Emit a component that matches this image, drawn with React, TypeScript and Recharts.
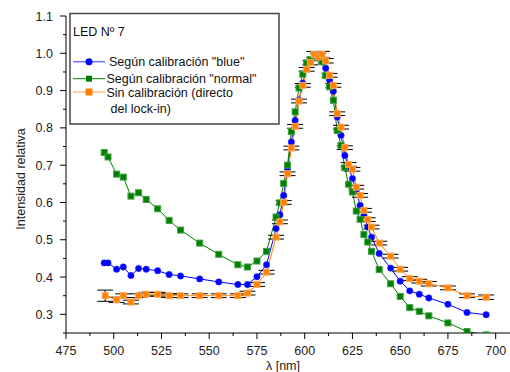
import React from 'react';
import { LineChart, Line, XAxis, YAxis, ErrorBar } from 'recharts';

const wavelengths = [495, 497, 501.5, 505, 509, 513, 517, 523, 529, 535, 545, 555, 565, 570, 575, 580, 585, 587, 589, 591, 593, 595, 597, 599, 601, 603, 605, 607, 609, 611, 613, 615, 617, 619, 621, 623, 625, 627, 629, 631, 633, 635, 639, 645, 650, 655, 660, 665, 675, 685, 695];

const blueValues = [0.438, 0.438, 0.421, 0.427, 0.404, 0.423, 0.421, 0.417, 0.407, 0.403, 0.395, 0.387, 0.380, 0.380, 0.401, 0.433, 0.530, 0.567, 0.619, 0.690, 0.762, 0.820, 0.875, 0.920, 0.960, 0.980, 0.990, 0.995, 0.990, 0.960, 0.928, 0.898, 0.829, 0.780, 0.726, 0.695, 0.664, 0.633, 0.592, 0.565, 0.534, 0.507, 0.463, 0.424, 0.389, 0.363, 0.354, 0.344, 0.327, 0.305, 0.299];

const normalValues = [0.734, 0.722, 0.676, 0.668, 0.617, 0.626, 0.608, 0.583, 0.552, 0.526, 0.491, 0.461, 0.433, 0.427, 0.443, 0.469, 0.561, 0.599, 0.651, 0.700, 0.790, 0.843, 0.907, 0.944, 0.974, 0.983, 0.995, 0.990, 0.977, 0.940, 0.910, 0.874, 0.793, 0.753, 0.693, 0.649, 0.628, 0.577, 0.555, 0.514, 0.494, 0.469, 0.420, 0.382, 0.348, 0.318, 0.308, 0.296, 0.277, 0.254, 0.245];

const rawWavelengths = [495.5, 501.5, 505, 509, 513, 517, 523, 529, 535, 545, 555, 565, 570, 575, 580, 585, 587, 589, 591, 593, 595, 597, 599, 601, 603, 605, 607, 609, 611, 613, 615, 617, 619, 621, 623, 625, 627, 629, 631, 633, 635, 639, 645, 650, 655, 660, 665, 675, 685, 695];

const rawValues = [0.350, 0.339, 0.350, 0.333, 0.350, 0.354, 0.354, 0.350, 0.350, 0.350, 0.350, 0.350, 0.357, 0.380, 0.413, 0.507, 0.548, 0.600, 0.677, 0.746, 0.804, 0.872, 0.914, 0.957, 0.975, 0.997, 0.990, 0.997, 0.980, 0.941, 0.914, 0.838, 0.802, 0.747, 0.702, 0.689, 0.641, 0.619, 0.579, 0.554, 0.534, 0.491, 0.456, 0.421, 0.396, 0.389, 0.382, 0.371, 0.350, 0.346];

const rawErrors = [0.015, 0.007, 0.005, 0.005, 0.005, 0.005, 0.005, 0.005, 0.005, 0.005, 0.005, 0.005, 0.005, 0.005, 0.005, 0.005, 0.005, 0.005, 0.005, 0.005, 0.005, 0.005, 0.005, 0.005, 0.006, 0.008, 0.010, 0.008, 0.006, 0.005, 0.005, 0.005, 0.005, 0.005, 0.005, 0.005, 0.005, 0.005, 0.005, 0.005, 0.005, 0.005, 0.005, 0.005, 0.005, 0.005, 0.006, 0.005, 0.005, 0.006];

const xMajorTicks = [475, 500, 525, 550, 575, 600, 625, 650, 675, 700];
const xMinorTicks = [487.5, 512.5, 537.5, 562.5, 587.5, 612.5, 637.5, 662.5, 687.5];
const yMajorTicks = [0.3, 0.4, 0.5, 0.6, 0.7, 0.8, 0.9, 1.0, 1.1];
const yMinorTicks = [0.25, 0.35, 0.45, 0.55, 0.65, 0.75, 0.85, 0.95, 1.05];

const legendTitle = 'LED Nº 7';
const seriesNames = ['Según calibración "blue"', 'Según calibración "normal"', 'Sin calibración (directo', 'del lock-in)'];
const xTitle = 'λ [nm]';
const yTitle = 'Intensidad relativa';

const blueData = wavelengths.map((w, i) => ({ x: w, y: blueValues[i] }));
const normalData = wavelengths.map((w, i) => ({ x: w, y: normalValues[i] }));
const rawData = rawWavelengths.map((w, i) => ({ x: w, y: rawValues[i], err: rawErrors[i] }));

const FONT = '"Liberation Sans", Arial, sans-serif';
const BLUE = '#0000ff';
const GREEN = '#008000';
const ORANGE = '#ff8000';

const isIn = (arr: number[], v: number) => arr.some((a) => Math.abs(a - v) < 1e-6);

const XTick = (props: any) => {
  const { x, y, payload } = props;
  const v = payload.value;
  const major = isIn(xMajorTicks, v);
  return (
    <g>
      <line x1={x} x2={x} y1={y} y2={y + (major ? 6 : 3)} stroke="#000" strokeWidth={1} />
      {major && (
        <text x={x} y={y + 22} textAnchor="middle" fontFamily={FONT} fontSize={12.5} fill="#222">
          {v}
        </text>
      )}
    </g>
  );
};

const YTick = (props: any) => {
  const { x, y, payload } = props;
  const v = payload.value;
  const major = isIn(yMajorTicks, v);
  return (
    <g>
      <line x1={x} x2={x - (major ? 6 : 3)} y1={y} y2={y} stroke="#000" strokeWidth={1} />
      {major && (
        <text x={x - 13} y={y + 4.5} textAnchor="end" fontFamily={FONT} fontSize={12.5} fill="#222">
          {v.toFixed(1)}
        </text>
      )}
    </g>
  );
};

const SquareDot = (fill: string, stroke: string, size: number) => (props: any) => {
  const { cx, cy, index } = props;
  if (cx == null || cy == null) return <g key={`n${index}`} />;
  return (
    <rect key={`d${index}`} x={cx - size / 2} y={cy - size / 2} width={size} height={size} fill={fill} stroke={stroke} strokeWidth={1} />
  );
};

export default function App() {
  return (
    <div style={{ position: 'absolute', left: 0, top: 0, width: 510, height: 372, background: '#fff' }}>
      <LineChart width={510} height={372} margin={{ top: 16, right: 0, bottom: 0, left: 0 }}>
        <XAxis
          type="number"
          dataKey="x"
          domain={[475, 707.5]}
          ticks={[...xMajorTicks, ...xMinorTicks].sort((a, b) => a - b)}
          interval={0}
          allowDataOverflow
          height={39}
          tickSize={0}
          tickMargin={0}
          tickLine={false}
          tick={<XTick />}
          axisLine={{ stroke: '#000', strokeWidth: 1 }}
        />
        <YAxis
          type="number"
          dataKey="y"
          domain={[0.25, 1.1]}
          ticks={[...yMajorTicks, ...yMinorTicks].sort((a, b) => a - b)}
          interval={0}
          allowDataOverflow
          width={66}
          tickSize={0}
          tickMargin={0}
          tickLine={false}
          tick={<YTick />}
          axisLine={{ stroke: '#000', strokeWidth: 1 }}
        />
        <Line
          data={blueData}
          dataKey="y"
          stroke={BLUE}
          strokeWidth={1}
          isAnimationActive={false}
          dot={{ r: 3.2, fill: BLUE, stroke: '#3030ff', strokeWidth: 0.5 }}
        />
        <Line
          data={normalData}
          dataKey="y"
          stroke={GREEN}
          strokeWidth={1}
          isAnimationActive={false}
          dot={SquareDot(GREEN, '#40a040', 6)}
        />
        <Line
          data={rawData}
          dataKey="y"
          stroke={ORANGE}
          strokeWidth={1}
          isAnimationActive={false}
          dot={SquareDot(ORANGE, '#ffa850', 6)}
        >
          <ErrorBar dataKey="err" direction="y" width={8} stroke="#000" strokeWidth={1} />
        </Line>
      </LineChart>
      <svg width={510} height={372} style={{ position: 'absolute', left: 0, top: 0, pointerEvents: 'none' }}>
        <text x={283} y={370} textAnchor="middle" fontFamily={FONT} fontSize={12.5} fill="#222">
          {xTitle}
        </text>
        <text
          x={20}
          y={183.5}
          transform="rotate(-90 20 179)"
          textAnchor="middle"
          fontFamily={FONT}
          fontSize={12.5}
          fill="#222"
        >
          {yTitle}
        </text>
        <rect x={70} y={13.5} width={209} height={110.5} fill="#fff" stroke="#444" strokeWidth={1.5} />
        <text x={73} y={36} fontFamily={FONT} fontSize={12.5} fill="#111">
          {legendTitle}
        </text>
        <line x1={73} x2={105} y1={61.7} y2={61.7} stroke="#7070ff" strokeWidth={1.5} />
        <circle cx={89} cy={61.7} r={3.5} fill={BLUE} />
        <text x={109} y={66} fontFamily={FONT} fontSize={12.5} fill="#111">
          {seriesNames[0]}
        </text>
        <line x1={73} x2={105} y1={78.7} y2={78.7} stroke={GREEN} strokeWidth={1} />
        <rect x={86} y={75.7} width={6} height={6} fill={GREEN} />
        <text x={106.5} y={83} fontFamily={FONT} fontSize={12.5} fill="#111">
          {seriesNames[1]}
        </text>
        <line x1={73} x2={105} y1={92} y2={92} stroke="#ffc080" strokeWidth={1.5} />
        <rect x={85.5} y={88.5} width={7} height={7} fill={ORANGE} />
        <text x={106.5} y={96.5} fontFamily={FONT} fontSize={12.5} fill="#111">
          {seriesNames[2]}
        </text>
        <text x={110.5} y={112.5} fontFamily={FONT} fontSize={12.5} fill="#111">
          {seriesNames[3]}
        </text>
      </svg>
    </div>
  );
}
